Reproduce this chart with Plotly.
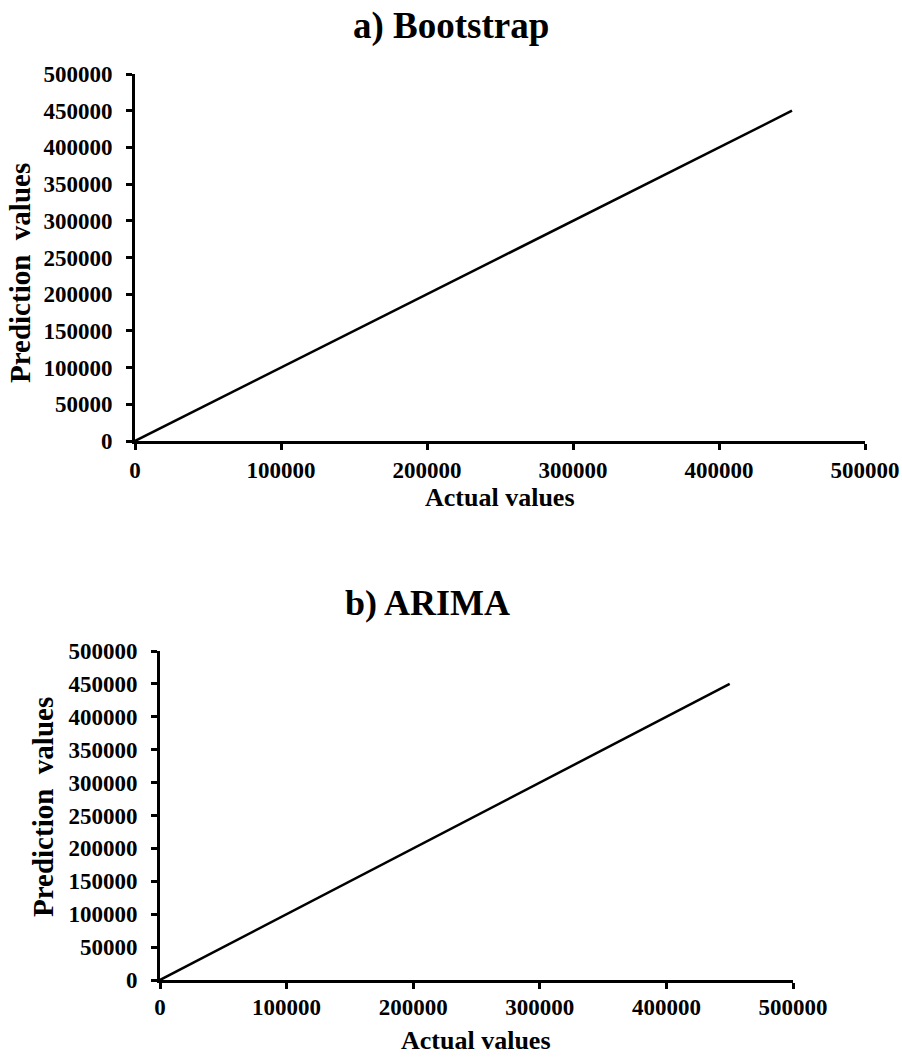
import plotly.graph_objects as go

actual_a = [0, 450000]
pred_a = [0, 450000]
actual_b = [0, 450000]
pred_b = [0, 450000]
y_tick_vals = [0, 50000, 100000, 150000, 200000, 250000, 300000, 350000, 400000, 450000, 500000]
x_tick_vals = [0, 100000, 200000, 300000, 400000, 500000]

W, H = 902, 1057
FONT = "Liberation Serif"

def px(x):
    return x / W

def py(y):
    return 1 - y / H

fig = go.Figure()
fig.add_trace(go.Scatter(x=actual_a, y=pred_a, mode="lines",
                         line=dict(color="black", width=2.5), xaxis="x", yaxis="y", showlegend=False))
fig.add_trace(go.Scatter(x=actual_b, y=pred_b, mode="lines",
                         line=dict(color="black", width=2.5), xaxis="x2", yaxis="y2", showlegend=False))

def ax(domain, vals, anchor, standoff):
    return dict(domain=domain, range=[0, 500000], tickvals=vals,
                ticktext=[str(v) for v in vals], showgrid=False, zeroline=False,
                showline=True, linecolor="black", linewidth=3, automargin=False,
                ticks="outside", ticklen=6, tickwidth=3, tickcolor="black",
                ticklabelstandoff=standoff,
                tickfont=dict(family=FONT, size=23, color="black", weight="bold"),
                anchor=anchor, fixedrange=True)

def txt(text, x, y, size, angle=0):
    return dict(text=text, x=px(x), y=py(y), xref="paper", yref="paper",
                xanchor="center", yanchor="middle", textangle=angle,
                showarrow=False, font=dict(family=FONT, size=size, color="black", weight="bold"))

fig.update_layout(
    width=W, height=H, margin=dict(l=0, r=0, t=0, b=0, autoexpand=False),
    template="none",
    plot_bgcolor="white", paper_bgcolor="white",
    xaxis=ax([px(135), px(865)], x_tick_vals, "y", 0),
    yaxis=ax([py(441), py(74)], y_tick_vals, "x", 9),
    xaxis2=ax([px(160), px(793)], x_tick_vals, "y2", -2),
    yaxis2=ax([py(980), py(651)], y_tick_vals, "x2", 9),
    annotations=[
        txt("a) Bootstrap", 451, 26, 37),
        txt("b) ARIMA", 427, 603, 36),
        txt("Actual values", 500, 498, 26),
        txt("Actual values", 476, 1040, 26),
        txt("Prediction  values", 20, 273, 29, -90),
        txt("Prediction  values", 43, 807, 29, -90),
    ],
)
fig.write_html("out.html", config={"displayModeBar": False},
               post_script="document.body.style.margin='0';")
